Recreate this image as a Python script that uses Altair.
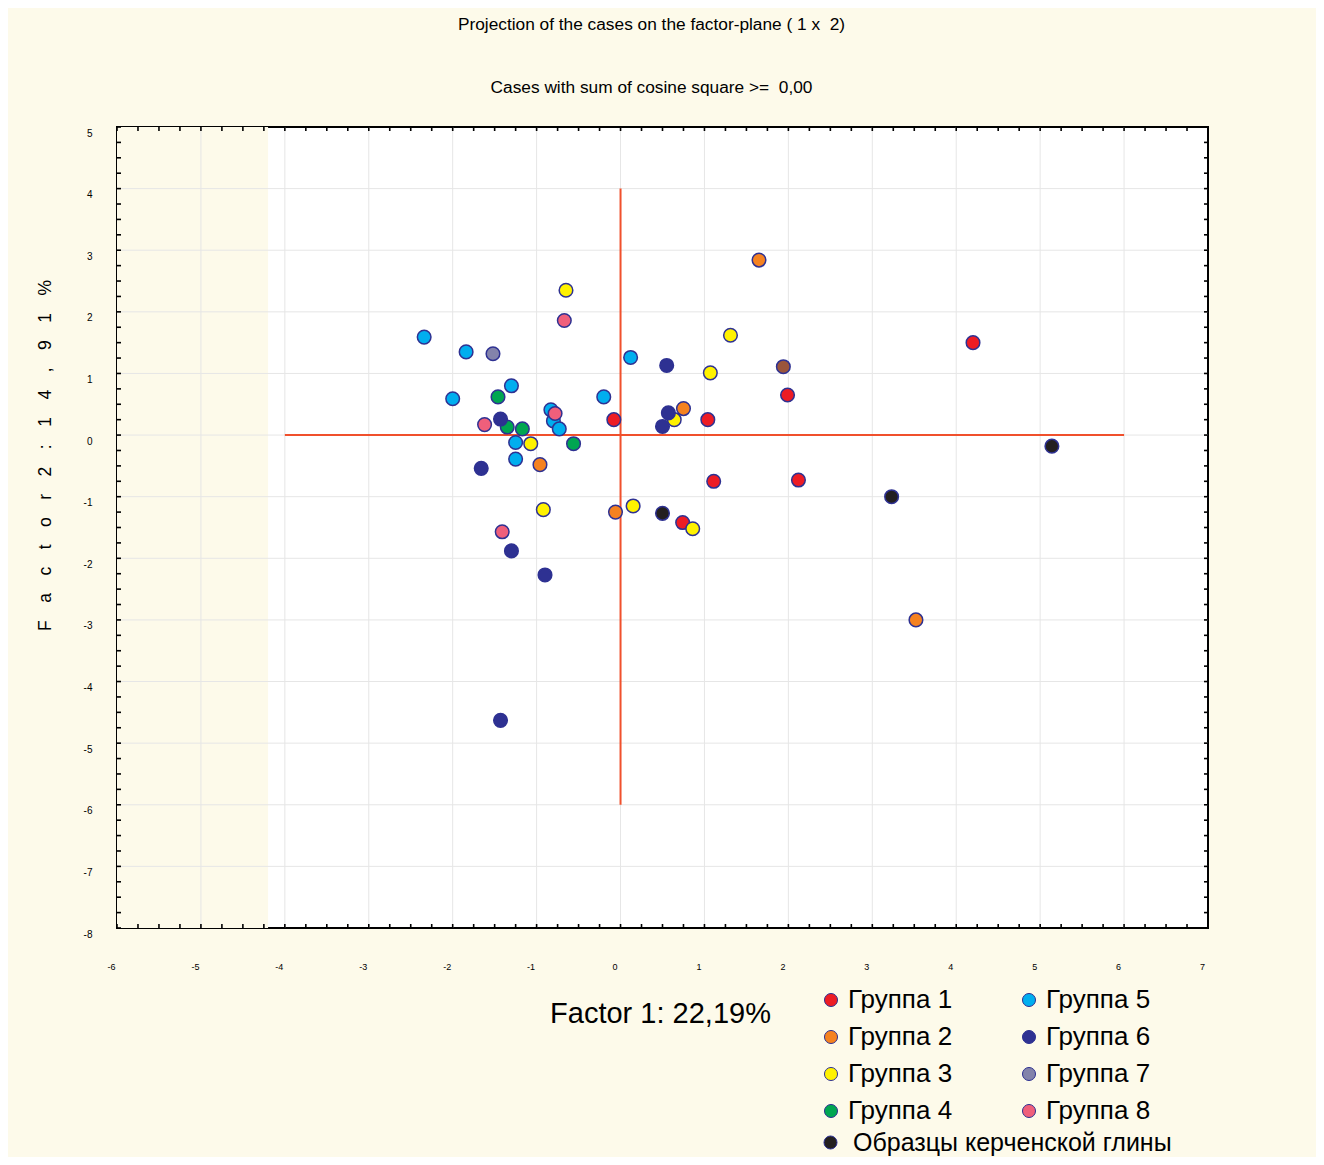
import altair as alt
import pandas as pd

# ---------------- data ----------------
g1_x = [-0.08, 1.04, 1.11, 0.74, 4.20, 1.99, 2.12]
g1_y = [0.25, 0.25, -0.75, -1.42, 1.50, 0.65, -0.73]
g2_x = [0.75, -0.96, -0.06, 1.65, 3.52]
g2_y = [0.43, -0.48, -1.25, 2.84, -3.00]
g3_x = [-0.65, 1.07, 0.64, -1.07, -0.92, 0.15, 0.86, 1.31]
g3_y = [2.35, 1.01, 0.25, -0.14, -1.21, -1.15, -1.52, 1.62]
g4_x = [-1.46, -1.35, -1.17, -0.56]
g4_y = [0.62, 0.13, 0.10, -0.14]
g5_x = [-2.34, -1.84, 0.12, -1.30, -2.00, -0.20, -0.83, -0.80, -0.73, -1.25, -1.25]
g5_y = [1.59, 1.35, 1.26, 0.80, 0.59, 0.62, 0.41, 0.23, 0.10, -0.12, -0.39]
g6_x = [0.55, 0.57, 0.50, -1.43, -1.66, -1.30, -0.90, -1.43]
g6_y = [1.13, 0.36, 0.14, 0.26, -0.54, -1.88, -2.27, -4.63]
g7_x = [-1.52]
g7_y = [1.32]
g8_x = [-0.67, -0.78, -1.62, -1.41]
g8_y = [1.86, 0.35, 0.17, -1.57]
kerch_x = [0.50, 5.14, 3.23]
kerch_y = [-1.27, -0.18, -1.00]
other_x = [1.94]
other_y = [1.11]

group_names = ["Группа 1", "Группа 2", "Группа 3", "Группа 4",
               "Группа 5", "Группа 6", "Группа 7", "Группа 8"]
group_colors = ["#ed1c24", "#f58220", "#fff200", "#00a651",
                "#00aeef", "#2e3192", "#8383ab", "#ef5f7b"]
kerch_name = "Образцы керченской глины"

x_ticks = list(range(-6, 8))
y_ticks = list(range(-8, 6))
minor_x = [i / 4 for i in range(-24, 29)]
minor_y = [i / 4 for i in range(-32, 21)]

# crosshair segments
cross_x = [-4, 0]
cross_x2 = [6, 0]
cross_y = [0, -6]
cross_y2 = [0, 4]

shade_x, shade_x2 = -6, -4.2

# ---------------- build tables ----------------
gx = [g1_x, g2_x, g3_x, g4_x, g5_x, g6_x, g7_x, g8_x]
gy = [g1_y, g2_y, g3_y, g4_y, g5_y, g6_y, g7_y, g8_y]
rows = []
for name, xs_, ys_ in zip(group_names, gx, gy):
    for a, b in zip(xs_, ys_):
        rows.append({"x": a, "y": b, "group": name})
pts = pd.DataFrame(rows)
kerch = pd.DataFrame({"x": kerch_x, "y": kerch_y, "group": [kerch_name] * len(kerch_x)})
other = pd.DataFrame({"x": other_x, "y": other_y})

W, H = 1091, 801
FONT = "Liberation Sans, Arial, sans-serif"
BEIGE = "#fdfaea"
NAVY = "#2e3192"

xs = alt.Scale(domain=[-6, 7], nice=False, zero=False)
ys = alt.Scale(domain=[-8, 5], nice=False, zero=False)

ytitle = "\u2003".join(list("Factor2:14,91%"))

xa = alt.Axis(
    values=x_ticks, grid=False, ticks=False, domain=False, labelFlush=False,
    labelOverlap=False, labelFont=FONT, labelFontSize=9, labelColor="black",
    labelPadding=34, labelOffset=-6, labelExpr="datum.value + ''",
    title="Factor 1: 22,19%", titleFont=FONT, titleFontSize=29, titleFontWeight="normal",
    titleColor="black", titleX=543, titleY=85, titleBaseline="middle", titleAlign="center")
ya = alt.Axis(
    values=y_ticks, grid=False, ticks=False, domain=False, labelFlush=False,
    labelOverlap=False, labelFont=FONT, labelFontSize=10, labelColor="black",
    labelPadding=25, labelOffset=6, labelExpr="datum.value + ''",
    title=ytitle, titleFont=FONT, titleFontSize=17.5, titleFontWeight="normal",
    titleColor="black", titleX=-72, titleY=328, titleAngle=270,
    titleBaseline="middle", titleAlign="center")


def X(f):
    return alt.X(f, type="quantitative", scale=xs, axis=xa)


def Y(f):
    return alt.Y(f, type="quantitative", scale=ys, axis=ya)


shade = alt.Chart(pd.DataFrame({"x": [shade_x], "x2": [shade_x2], "y": [-8], "y2": [5]})).mark_rect(
    color=BEIGE).encode(x=X("x"), x2="x2", y=Y("y"), y2="y2")

gridx = alt.Chart(pd.DataFrame({"gx": x_ticks[1:-1]})).mark_rule(color="#e6e6e6", strokeWidth=1).encode(
    x=X("gx"), y=alt.value(0), y2=alt.value(H))
gridy = alt.Chart(pd.DataFrame({"gy": y_ticks[1:-1]})).mark_rule(color="#e6e6e6", strokeWidth=1).encode(
    y=Y("gy"), x=alt.value(0), x2=alt.value(W))

cross = alt.Chart(pd.DataFrame({"cx": cross_x, "cx2": cross_x2, "cy": cross_y, "cy2": cross_y2})).mark_rule(
    color="#f0502c", strokeWidth=2).encode(x=X("cx"), x2="cx2", y=Y("cy"), y2="cy2")

mx = pd.DataFrame({"t": minor_x})
my = pd.DataFrame({"t": minor_y})
tick_style = dict(color="black", strokeWidth=1.6)
tick_top = alt.Chart(mx).mark_rule(**tick_style).encode(x=X("t"), y=alt.value(0), y2=alt.value(4))
tick_bot = alt.Chart(mx).mark_rule(**tick_style).encode(x=X("t"), y=alt.value(H), y2=alt.value(H - 4))
tick_left = alt.Chart(my).mark_rule(**tick_style).encode(y=Y("t"), x=alt.value(0), x2=alt.value(4))
tick_right = alt.Chart(my).mark_rule(**tick_style).encode(y=Y("t"), x=alt.value(W), x2=alt.value(W - 4))

points = alt.Chart(pts).mark_circle(size=185, stroke=NAVY, strokeWidth=1.5, opacity=1).encode(
    x=X("x"), y=Y("y"),
    color=alt.Color("group:N", scale=alt.Scale(domain=group_names, range=group_colors),
                    legend=alt.Legend(title=None, orient="none", legendX=701, legendY=860,
                                      columns=2, columnPadding=63, rowPadding=11,
                                      symbolType="circle", symbolSize=170,
                                      symbolStrokeColor=NAVY, symbolStrokeWidth=1,
                                      labelFont=FONT, labelFontSize=26, labelColor="black",
                                      labelOffset=4, labelLimit=400, padding=0)),
)

other_pts = alt.Chart(other).mark_circle(size=185, stroke=NAVY, strokeWidth=1.5, opacity=1,
                                         color="#9b553b").encode(x=X("x"), y=Y("y"))

kerch_pts = alt.Chart(kerch).mark_circle(size=185, stroke=NAVY, strokeWidth=1.5, opacity=1).encode(
    x=X("x"), y=Y("y"),
    color=alt.Color("group:N", scale=alt.Scale(domain=[kerch_name], range=["#231f20"]),
                    legend=alt.Legend(title=None, orient="none", legendX=701, legendY=1003,
                                      symbolType="circle", symbolSize=170,
                                      symbolStrokeColor=NAVY, symbolStrokeWidth=1,
                                      labelFont=FONT, labelFontSize=25, labelColor="black",
                                      labelOffset=10, labelLimit=500, padding=0)),
)

chart = alt.layer(
    shade, gridx, gridy, cross, tick_top, tick_bot, tick_left, tick_right,
    points, other_pts, kerch_pts
).resolve_scale(color="independent").properties(
    width=W, height=H,
    title=alt.TitleParams(
        text="Projection of the cases on the factor-plane (\u00a01 x\u00a0\u00a02)",
        subtitle="Cases with sum of cosine square >=\u00a0\u00a00,00",
        font=FONT, fontSize=17.3, fontWeight="normal", color="black",
        subtitleFont=FONT, subtitleFontSize=17.3, subtitleColor="black",
        subtitlePadding=46, anchor="middle", frame="group", offset=30, dx=-11),
    background=BEIGE,
    padding={"left": 109, "top": 119, "right": 108, "bottom": 229},
    autosize=alt.AutoSizeParams(type="none"),
).configure_view(stroke="black", strokeWidth=2, fill="white")

chart.save("out.html", embed_options={"renderer": "svg", "actions": False})
